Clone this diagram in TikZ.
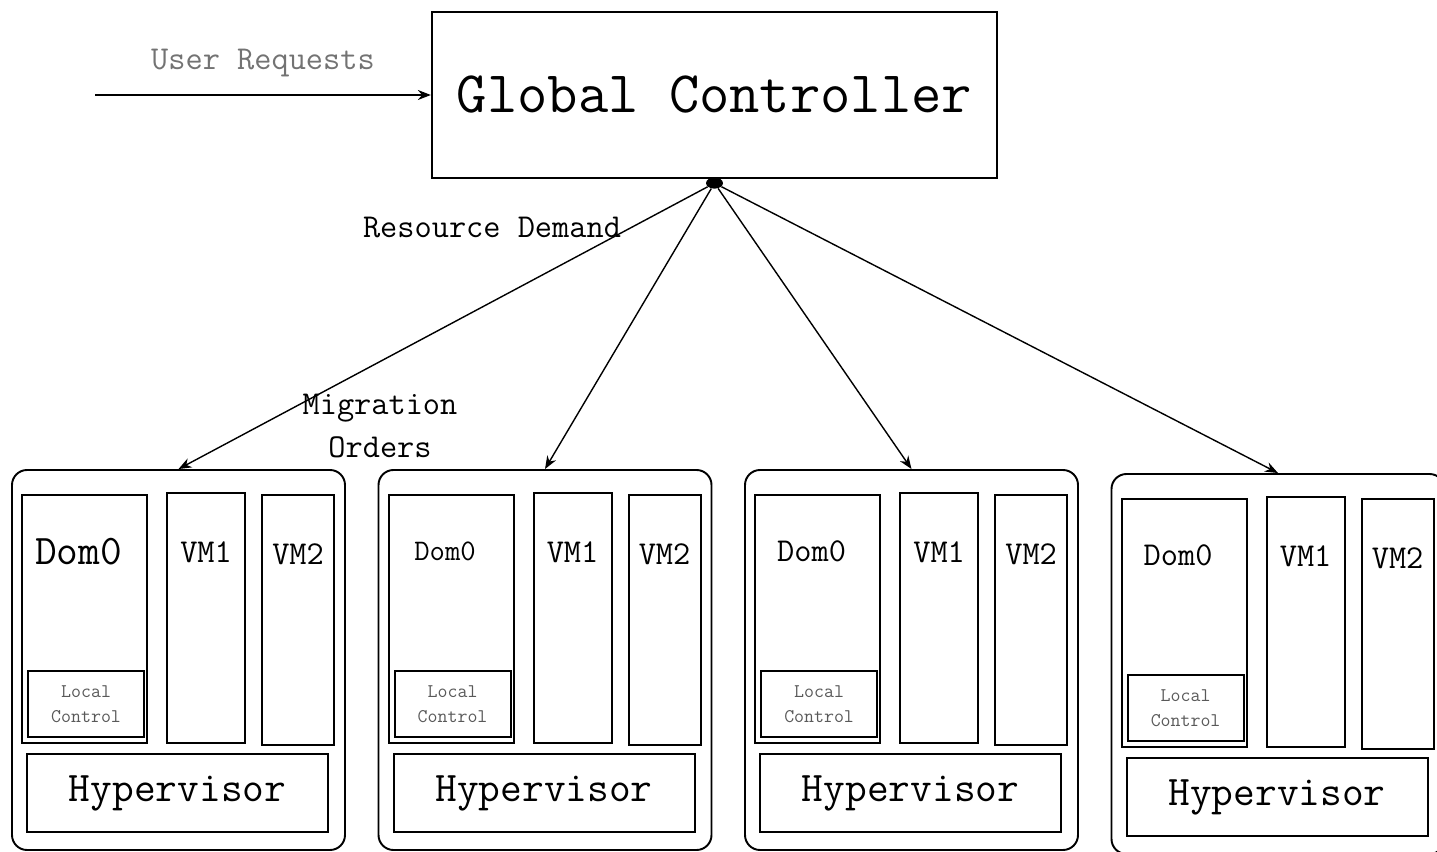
\documentclass[tikz,border=0pt]{standalone}
\usepackage{fontspec}
\usetikzlibrary{arrows.meta,positioning,shapes.geometric}
\newcommand{\monosize}[2]{\fontsize{#1}{#2}\selectfont\ttfamily}
\tikzstyle{gbox} = [rectangle, minimum width=11.3cm, minimum height=3.32cm, draw=black, line width=1.3pt, font=\monosize{33.5}{38}]
\tikzstyle{server} = [rectangle, rounded corners=0.3cm, minimum width=6.66cm, minimum height=7.6cm, draw=black, line width=1.1pt]
\tikzstyle{dom} = [rectangle, anchor=north west, minimum width=2.5cm, minimum height=4.96cm, draw=black, line width=1.2pt]
\tikzstyle{ctrl} = [rectangle, anchor=south west, minimum width=2.32cm, minimum height=1.32cm, inner sep=0pt, draw=black, line width=1.2pt, align=center, text=black!65, font=\monosize{11}{14}]
\tikzstyle{vm} = [rectangle, anchor=north west, minimum height=5cm, draw=black, line width=1.2pt]
\tikzstyle{hyper} = [rectangle, anchor=north west, minimum width=6.02cm, minimum height=1.56cm, draw=black, line width=1.2pt, font=\monosize{24}{28}]
\tikzstyle{domlbl} = [anchor=center, xshift=-0.12cm, yshift=-1.15cm]
\tikzstyle{vmlbl} = [anchor=center, yshift=-1.2cm, font=\monosize{19}{22}]
\tikzstyle{hub} = [ellipse, fill=black, inner sep=0pt, minimum width=0.34cm, minimum height=0.22cm]
\tikzstyle{note} = [font=\monosize{19}{24}, align=center]
\tikzstyle{link} = [line width=0.8pt,->,>={Stealth[length=0.26cm,width=0.2cm]}]

\begin{document}
\begin{tikzpicture}[node distance=7.33cm]
\useasboundingbox (0,0) rectangle (28.74,-17.04);
\node (gc)[gbox] at (14.29,-1.9) {Global Controller};
\node (hub)[hub] at ([yshift=-0.08cm]gc.south) {};
\coordinate (src) at (1.9,-1.9);
\node (req)[note, text=black!55] at (5.26,-1.26) {User Requests};
\node (demand)[note] at (9.84,-4.56) {Resource Demand};
\node (orders)[note] at (7.6,-8.52) {Migration\\Orders};

\node (s1)[server] at (3.57,-13.2) {};
\node (s2)[server, right of=s1] {};
\node (s3)[server, right of=s2] {};
\node (s4)[server, right of=s3, yshift=-0.08cm] {};

\node (d1)[dom, label={[domlbl, font=\monosize{24}{28}]north:Dom0}] at ([shift={(0.2,-0.5)}]s1.north west) {};
\node (l1)[ctrl] at ([shift={(0.12,0.12)}]d1.south west) {Local\\Control};
\node (a1)[vm, minimum width=1.56cm, label={[vmlbl]north:VM1}] at ([shift={(3.1,-0.46)}]s1.north west) {};
\node (b1)[vm, minimum width=1.44cm, label={[vmlbl]north:VM2}] at ([shift={(5.0,-0.5)}]s1.north west) {};
\node (h1)[hyper] at ([shift={(0.3,-5.68)}]s1.north west) {Hypervisor};

\node (d2)[dom, label={[domlbl, font=\monosize{17}{20}]north:Dom0}] at ([shift={(0.2,-0.5)}]s2.north west) {};
\node (l2)[ctrl] at ([shift={(0.12,0.12)}]d2.south west) {Local\\Control};
\node (a2)[vm, minimum width=1.56cm, label={[vmlbl]north:VM1}] at ([shift={(3.1,-0.46)}]s2.north west) {};
\node (b2)[vm, minimum width=1.44cm, label={[vmlbl]north:VM2}] at ([shift={(5.0,-0.5)}]s2.north west) {};
\node (h2)[hyper] at ([shift={(0.3,-5.68)}]s2.north west) {Hypervisor};

\node (d3)[dom, label={[domlbl, font=\monosize{19}{22}]north:Dom0}] at ([shift={(0.2,-0.5)}]s3.north west) {};
\node (l3)[ctrl] at ([shift={(0.12,0.12)}]d3.south west) {Local\\Control};
\node (a3)[vm, minimum width=1.56cm, label={[vmlbl]north:VM1}] at ([shift={(3.1,-0.46)}]s3.north west) {};
\node (b3)[vm, minimum width=1.44cm, label={[vmlbl]north:VM2}] at ([shift={(5.0,-0.5)}]s3.north west) {};
\node (h3)[hyper] at ([shift={(0.3,-5.68)}]s3.north west) {Hypervisor};

\node (d4)[dom, label={[domlbl, font=\monosize{19}{22}]north:Dom0}] at ([shift={(0.2,-0.5)}]s4.north west) {};
\node (l4)[ctrl] at ([shift={(0.12,0.12)}]d4.south west) {Local\\Control};
\node (a4)[vm, minimum width=1.56cm, label={[vmlbl]north:VM1}] at ([shift={(3.1,-0.46)}]s4.north west) {};
\node (b4)[vm, minimum width=1.44cm, label={[vmlbl]north:VM2}] at ([shift={(5.0,-0.5)}]s4.north west) {};
\node (h4)[hyper] at ([shift={(0.3,-5.68)}]s4.north west) {Hypervisor};

\draw [link](src) -- (gc.west);
\draw [link](hub) -- (s1.north);
\draw [link](hub) -- (s2.north);
\draw [link](hub) -- (s3.north);
\draw [link](hub) -- (s4.north);
\end{tikzpicture}
\end{document}
